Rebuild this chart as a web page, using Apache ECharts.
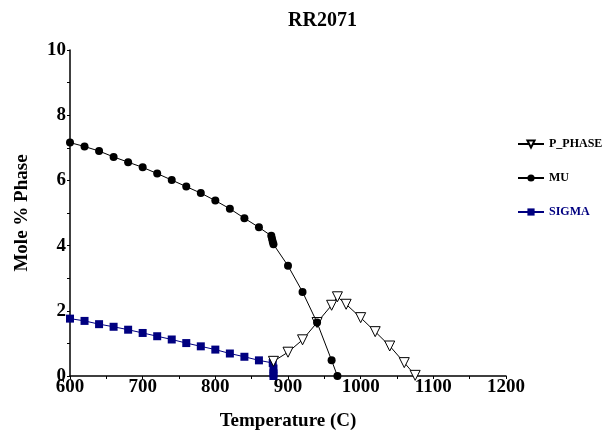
<!DOCTYPE html>
<html>
<head>
<meta charset="utf-8">
<script src="https://cdn.jsdelivr.net/npm/echarts@6/dist/echarts.min.js"></script>
<style>html,body{margin:0;padding:0;background:#fff;}#c{width:606px;height:436px;}</style>
</head>
<body>
<div id="c"></div>
<script>
const muT = [600,620,640,660,680,700,720,740,760,780,800,820,840,860,877,878,879,880,900,920,940,960,968];
const muV = [7.16,7.04,6.90,6.72,6.56,6.40,6.21,6.01,5.81,5.61,5.38,5.13,4.84,4.56,4.30,4.21,4.12,4.04,3.38,2.58,1.64,0.48,0.0];
const pT = [880,900,920,940,960,968,980,1000,1020,1040,1060,1075];
const pV = [0.45,0.73,1.11,1.64,2.17,2.43,2.20,1.79,1.36,0.92,0.41,0.02];
const sT = [600,620,640,660,680,700,720,740,760,780,800,820,840,860,879,880,880,880];
const sV = [1.76,1.69,1.59,1.51,1.42,1.32,1.22,1.12,1.01,0.91,0.81,0.69,0.59,0.48,0.40,0.23,0.08,0.0];
const zip = (a,b) => a.map((x,i)=>[x,b[i]]);
const FONT = '"Liberation Serif", "Times New Roman", serif';
const chart = echarts.init(document.getElementById('c'));
chart.setOption({
  animation:false,
  backgroundColor:'#fff',
  textStyle:{fontFamily:FONT},
  title:{text:'RR2071',left:283,top:6,textStyle:{fontFamily:FONT,fontWeight:'bold',fontSize:20,color:'#000'}},
  grid:{left:70,right:100,top:50,bottom:55},
  legend:{orient:'vertical',left:512,top:133,itemWidth:26,itemHeight:9,itemGap:22,
    textStyle:{fontFamily:FONT,fontWeight:'bold',fontSize:12,color:'#000'},
    data:[{name:'P_PHASE'},{name:'MU'},{name:'SIGMA',textStyle:{color:'#000080'}}]},
  xAxis:{type:'value',min:600,max:1200,interval:100,
    name:'Temperature (C)',nameLocation:'middle',nameGap:36,
    nameTextStyle:{fontFamily:FONT,fontWeight:'bold',fontSize:19,color:'#000'},
    axisLine:{lineStyle:{color:'#000',width:1.5}},
    axisTick:{length:3,lineStyle:{color:'#000'}},
    minorTick:{show:true,splitNumber:2,length:3,lineStyle:{color:'#000'}},
    splitLine:{show:false},
    axisLabel:{margin:2,fontFamily:FONT,fontWeight:'bold',fontSize:19,color:'#000',formatter:v=>String(v)}},
  yAxis:{type:'value',min:0,max:10,interval:2,
    name:'Mole % Phase',nameLocation:'middle',nameGap:38,
    nameTextStyle:{fontFamily:FONT,fontWeight:'bold',fontSize:19,color:'#000'},
    axisLine:{show:true,lineStyle:{color:'#000',width:1.5}},
    axisTick:{show:true,length:3,lineStyle:{color:'#000'}},
    minorTick:{show:true,splitNumber:2,length:3,lineStyle:{color:'#000'}},
    splitLine:{show:false},
    axisLabel:{margin:4,fontFamily:FONT,fontWeight:'bold',fontSize:19,color:'#000'}},
  series:[
    {name:'P_PHASE',type:'line',data:zip(pT,pV),symbol:'triangle',symbolRotate:180,symbolSize:10,
      itemStyle:{color:'#fff',borderColor:'#000',borderWidth:1},lineStyle:{color:'#000',width:1},z:3},
    {name:'MU',type:'line',data:zip(muT,muV),symbol:'circle',symbolSize:8,
      itemStyle:{color:'#000'},lineStyle:{color:'#000',width:1},z:4},
    {name:'SIGMA',type:'line',data:zip(sT,sV),symbol:'rect',symbolSize:8,
      itemStyle:{color:'#000080'},lineStyle:{color:'#000080',width:1},z:2}
  ]
});
</script>
</body>
</html>
